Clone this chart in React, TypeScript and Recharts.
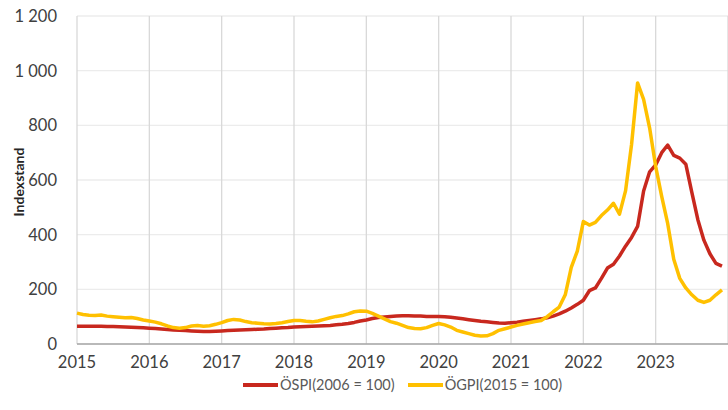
import React from 'react';
import { LineChart, Line, XAxis, YAxis, CartesianGrid, Legend } from 'recharts';

const yearLabels = ['2015', '2016', '2017', '2018', '2019', '2020', '2021', '2022', '2023'];
const yTicks = [0, 200, 400, 600, 800, 1000, 1200];

// Monthly values, Jan 2015 - Dec 2023
const ospi = [
  65, 65, 65, 65, 65, 64, 64, 63, 62, 61, 60, 59,
  58, 57, 55, 53, 51, 50, 49, 48, 47, 46, 46, 47,
  48, 49, 50, 51, 52, 53, 54, 55, 57, 58, 59, 60,
  62, 63, 64, 65, 66, 67, 68, 70, 72, 75, 79, 84,
  88, 93, 97, 99, 101, 102, 103, 103, 102, 102, 101, 101,
  101, 100, 98, 95, 92, 89, 86, 83, 81, 79, 77, 76,
  78, 80, 83, 86, 89, 92, 96, 102, 110, 120, 132, 145,
  160, 195, 205, 240, 278, 292, 322, 358, 390, 430, 560, 630,
  655, 700, 728, 690, 680, 658, 555, 455, 380, 330, 295, 285,
];

const ogpi = [
  113, 108, 105, 104, 106, 102, 100, 98, 96, 97, 93, 88,
  84, 80, 74, 66, 60, 58, 60, 66, 68, 65, 67, 72,
  78, 86, 90, 88, 82, 78, 76, 74, 73, 75, 78, 82,
  86, 86, 83, 81, 84, 90, 96, 101, 104, 110, 118, 121,
  120, 112, 102, 92, 82, 76, 68, 60, 57, 56, 60, 68,
  75, 70, 62, 50, 44, 38, 32, 29, 30, 38, 50, 56,
  62, 68, 73, 78, 82, 86, 100, 118, 135, 180, 280, 340,
  448, 435, 445, 470, 490, 515, 475, 560, 730, 955, 895, 790,
  650, 540, 440, 310, 240, 205, 180, 160, 152, 160, 180, 198,
];

const seriesNames = ['ÖSPI(2006 = 100)', 'ÖGPI(2015 = 100)'];
const seriesColors = ['#C8281E', '#FFC000'];

const data = ospi.map((v, i) => ({ m: i, ospi: v, ogpi: ogpi[i] }));
const xTicks = yearLabels.map((_, i) => i * 12);

const FONT = 'Lato, "Open Sans", sans-serif';

const fmtY = (v: number) => (v >= 1000 ? `${Math.floor(v / 1000)} ${String(v % 1000).padStart(3, '0')}` : String(v));

const LegendContent = () => (
  <div style={{ display: 'flex', justifyContent: 'center', alignItems: 'center', fontFamily: FONT, fontSize: 14.5, color: '#595959' }}>
    {seriesNames.map((n, i) => (
      <div key={n} style={{ display: 'flex', alignItems: 'center', marginLeft: i === 0 ? 0 : 13 }}>
        <span style={{ display: 'inline-block', width: 35, height: 4, background: seriesColors[i], marginRight: 2 }} />
        <span>{n}</span>
      </div>
    ))}
  </div>
);

const YLabel = (props: any) => {
  const vb = props.viewBox || { x: 0, y: 0, width: 77, height: 300 };
  const cx = 18;
  const cy = vb.y + vb.height / 2 + 2;
  return (
    <text x={cx} y={cy} transform={`rotate(-90, ${cx}, ${cy})`} textAnchor="middle" dominantBaseline="central"
      fontFamily={FONT} fontSize={14} fontWeight="bold" fill="#262626">
      Indexstand
    </text>
  );
};

export default function App() {
  return (
    <div style={{ position: 'absolute', left: 0, top: 0, width: 728, height: 410, background: '#fff' }}>
      <LineChart width={728} height={410} data={data} margin={{ top: 16, right: 0, bottom: 36, left: 0 }}>
        <CartesianGrid vertical={false} stroke="#ececec" strokeWidth={1.3} />
        <CartesianGrid horizontal={false} stroke="#d9d9d9" strokeWidth={1.3} />
        <XAxis
          dataKey="m"
          type="number"
          domain={[0, 108]}
          ticks={xTicks}
          tickFormatter={(v: number) => yearLabels[v / 12]}
          height={30}
          tickSize={0}
          tickMargin={12}
          stroke="#a6a6a6"
          strokeWidth={1.5}
          tick={{ fill: '#404040', fontSize: 16.5, fontFamily: FONT }}
        />
        <YAxis
          domain={[0, 1200]}
          ticks={yTicks}
          tickFormatter={fmtY}
          width={77}
          axisLine={false}
          tickSize={0}
          tickMargin={20}
          tick={{ fill: '#404040', fontSize: 16.5, fontFamily: FONT }}
          label={<YLabel />}
        />
        <Legend verticalAlign="middle" content={<LegendContent />} wrapperStyle={{ top: 376, left: 77, width: 651 }} />
        <Line dataKey="ospi" name={seriesNames[0]} stroke={seriesColors[0]} strokeWidth={3.5} dot={false} isAnimationActive={false} strokeLinejoin="round" />
        <Line dataKey="ogpi" name={seriesNames[1]} stroke={seriesColors[1]} strokeWidth={3.5} dot={false} isAnimationActive={false} strokeLinejoin="round" />
      </LineChart>
    </div>
  );
}
